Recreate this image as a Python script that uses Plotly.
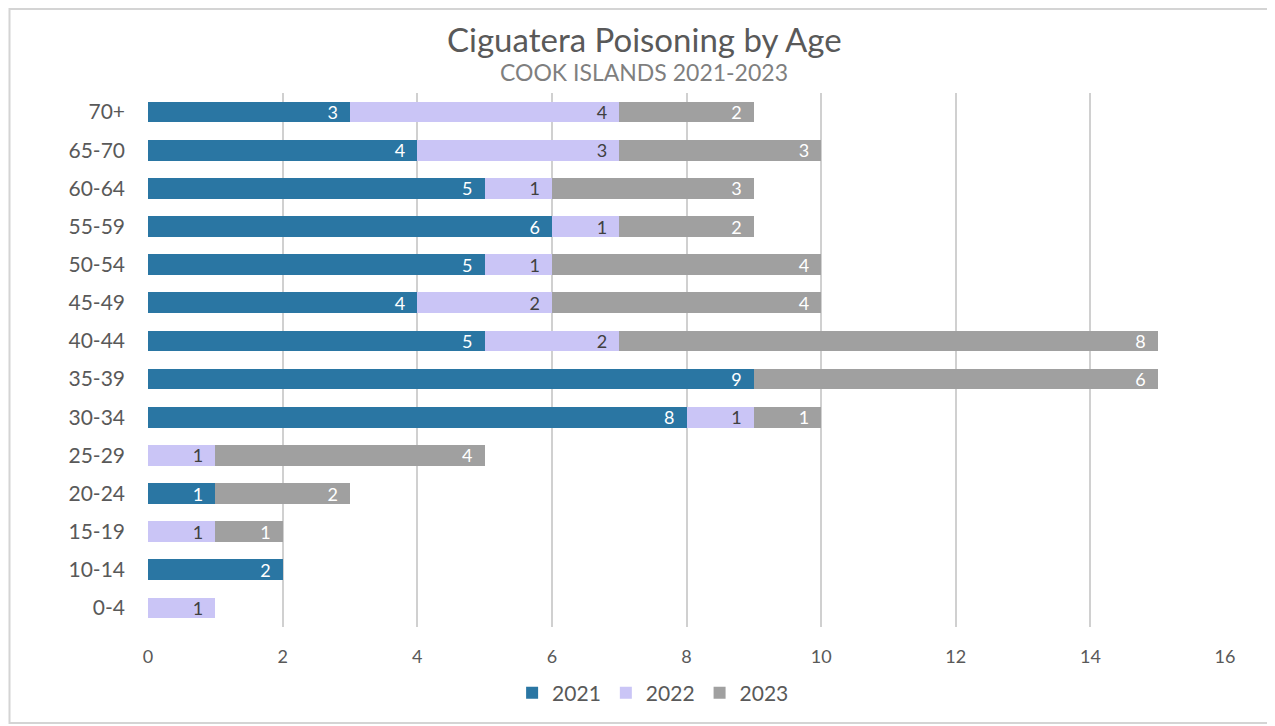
import plotly.graph_objects as go

age_groups = ["70+", "65-70", "60-64", "55-59", "50-54", "45-49", "40-44",
              "35-39", "30-34", "25-29", "20-24", "15-19", "10-14", "0-4"]
cases_2021 = [3, 4, 5, 6, 5, 4, 5, 9, 8, 0, 1, 0, 2, 0]
cases_2022 = [4, 3, 1, 1, 1, 2, 2, 0, 1, 1, 0, 1, 0, 1]
cases_2023 = [2, 3, 3, 2, 4, 4, 8, 6, 1, 4, 2, 1, 0, 0]
x_ticks = [0, 2, 4, 6, 8, 10, 12, 14, 16]

series = [
    ("2021", cases_2021, "#2A76A3", "white"),
    ("2022", cases_2022, "#CAC5F6", "#404040"),
    ("2023", cases_2023, "#A0A0A0", "white"),
]

PAD = "\u2002"  # en space so labels sit a little in from the bar end

fig = go.Figure()
for name, vals, color, tcolor in series:
    fig.add_trace(go.Bar(
        y=age_groups, x=vals, name=name, orientation="h",
        marker=dict(color=color, line=dict(width=0)),
        text=[f"{v}{PAD}" if v else "" for v in vals],
        textposition="inside", insidetextanchor="end", textangle=0,
        constraintext="none",
        textfont=dict(family="Lato, sans-serif", size=18, color=tcolor),
        hoverinfo="x+y+name",
    ))

# page body has an 8px margin; figure origin sits at (8, 8)
fig.update_layout(
    width=1267, height=718,
    barmode="stack", bargap=0.46,
    paper_bgcolor="white", plot_bgcolor="white",
    margin=dict(l=140, r=50, t=85, b=99),
    font=dict(family="Lato, sans-serif", color="#595959"),
    showlegend=True,
    legend=dict(orientation="h", x=0.469, xanchor="center", y=-0.124, yanchor="middle",
                font=dict(size=21, color="#595959"), traceorder="normal",
                itemwidth=30, itemsizing="constant"),
    annotations=[
        dict(text="Ciguatera Poisoning by Age", xref="paper", yref="paper",
             x=0.461, y=(627 - 39) / 534, xanchor="center", yanchor="middle",
             showarrow=False, font=dict(size=33, color="#595959", family="Lato, sans-serif")),
        dict(text="COOK ISLANDS 2021-2023", xref="paper", yref="paper",
             x=0.461, y=(627 - 72) / 534, xanchor="center", yanchor="middle",
             showarrow=False, font=dict(size=23, color="#7F7F7F", family="Lato, sans-serif")),
    ],
    shapes=[dict(type="rect", xref="paper", yref="paper",
                 x0=(9.5 - 148) / 1077, x1=(1268 - 148) / 1077,
                 y0=(627 - 723) / 534, y1=(627 - 9) / 534,
                 line=dict(color="#D4D4D4", width=2), layer="below")],
)
fig.update_xaxes(range=[0, 16], tickvals=x_ticks, showgrid=True, gridcolor="#D0D0D0",
                 gridwidth=1.5, zeroline=False, showline=False,
                 tickfont=dict(size=18, color="#595959"), ticklabelstandoff=17)
fig.update_yaxes(autorange="reversed", showgrid=False, showline=False, zeroline=False,
                 tickfont=dict(size=21, color="#595959"), ticklabelstandoff=22)

fig.write_html("out.html")
